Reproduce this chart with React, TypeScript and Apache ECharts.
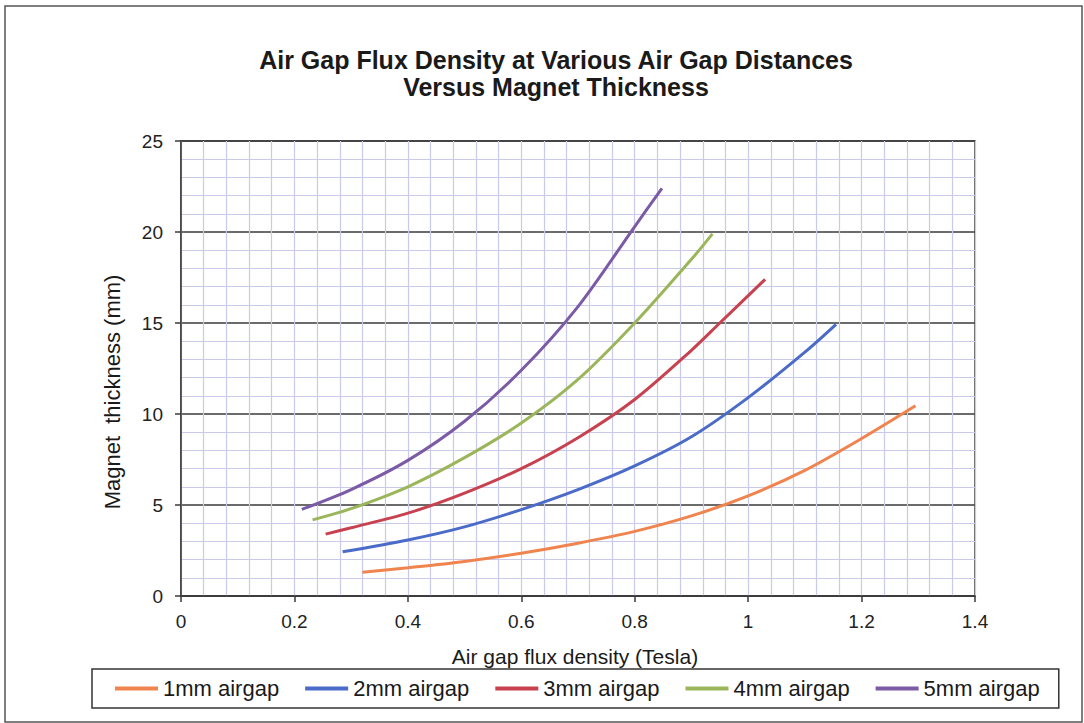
import React, { useEffect, useRef } from "react";
import * as echarts from "echarts";

const seriesNames = ["1mm airgap", "2mm airgap", "3mm airgap", "4mm airgap", "5mm airgap"];
const seriesColors = ["#F0844E", "#4A6BC8", "#C8414E", "#9BB65A", "#7B5AA6"];

const gap1mm: [number, number][] = [
  [0.32, 1.3], [0.4, 1.55], [0.5, 1.9], [0.6, 2.35], [0.7, 2.9], [0.8, 3.55],
  [0.9, 4.4], [1.0, 5.5], [1.1, 6.9], [1.2, 8.65], [1.295, 10.45],
];
const gap2mm: [number, number][] = [
  [0.285, 2.43], [0.4, 3.08], [0.5, 3.8], [0.6, 4.75], [0.7, 5.85], [0.8, 7.15],
  [0.9, 8.75], [1.0, 10.9], [1.1, 13.4], [1.155, 14.93],
];
const gap3mm: [number, number][] = [
  [0.255, 3.4], [0.3, 3.75], [0.4, 4.55], [0.5, 5.65], [0.6, 7.0], [0.7, 8.7],
  [0.8, 10.8], [0.9, 13.5], [0.95, 15.0], [1.03, 17.4],
];
const gap4mm: [number, number][] = [
  [0.232, 4.18], [0.3, 4.8], [0.4, 6.0], [0.5, 7.6], [0.6, 9.5], [0.7, 11.9],
  [0.8, 15.0], [0.9, 18.5], [0.937, 19.9],
];
const gap5mm: [number, number][] = [
  [0.213, 4.76], [0.3, 5.85], [0.4, 7.45], [0.5, 9.6], [0.6, 12.4], [0.7, 15.9],
  [0.8, 20.3], [0.848, 22.4],
];
const allSeries = [gap1mm, gap2mm, gap3mm, gap4mm, gap5mm];

const titleText = "Air Gap Flux Density at Various Air Gap Distances\nVersus Magnet Thickness";
const xAxisTitle = "Air gap flux density (Tesla)";
const yAxisTitle = "Magnet  thickness (mm)";
const xMin = 0, xMax = 1.4, xStep = 0.2;
const yMin = 0, yMax = 25, yStep = 5;

const FONT = "'Liberation Sans', Arial, sans-serif";

export default function App() {
  const ref = useRef<HTMLDivElement>(null);
  useEffect(() => {
    if (!ref.current) return;
    const chart = echarts.init(ref.current, undefined, { renderer: "svg" });
    chart.setOption({
      animation: false,
      backgroundColor: "#ffffff",
      textStyle: { fontFamily: FONT },
      title: {
        text: titleText,
        left: 551,
        top: 41,
        textAlign: "center",
        textStyle: { fontFamily: FONT, fontSize: 25, fontWeight: "bold", color: "#1a1a1a", lineHeight: 27 },
      },
      grid: {
        left: 181, right: 109, top: 141, bottom: 127,
        show: true, borderColor: "#3a3a3a", borderWidth: 1.5, backgroundColor: "transparent",
      },
      legend: {
        left: 92,
        top: 669,
        padding: [8, 19, 8, 23],
        borderColor: "#333",
        borderWidth: 1.5,
        icon: "rect",
        itemWidth: 43,
        itemHeight: 4,
        itemGap: 26,
        textStyle: { fontFamily: FONT, fontSize: 22, color: "#1a1a1a", lineHeight: 23 },
        data: seriesNames,
      },
      xAxis: {
        type: "value",
        min: xMin, max: xMax, interval: xStep,
        axisLine: { show: true, onZero: false, lineStyle: { color: "#3a3a3a", width: 1.5 } },
        axisTick: { show: true, length: 6, lineStyle: { color: "#3a3a3a", width: 1.5 } },
        axisLabel: { fontFamily: FONT, fontSize: 19, color: "#222", margin: 16, formatter: (v: number) => String(Math.round(v * 10) / 10) },
        splitLine: { show: true, lineStyle: { color: "#c9c9ea", width: 1.2 } },
        minorTick: { show: false, splitNumber: 5 },
        minorSplitLine: { show: true, lineStyle: { color: "#c9c9ea", width: 1.2 } },
      },
      yAxis: {
        type: "value",
        min: yMin, max: yMax, interval: yStep,
        axisLine: { show: true, lineStyle: { color: "#3a3a3a", width: 1.5 } },
        axisTick: { show: true, length: 6, lineStyle: { color: "#3a3a3a", width: 1.5 } },
        axisLabel: { fontFamily: FONT, fontSize: 19, color: "#222", margin: 18 },
        splitLine: { show: true, lineStyle: { color: "#3a3a3a", width: 1.5 } },
        minorTick: { show: false, splitNumber: 5 },
        minorSplitLine: { show: true, lineStyle: { color: "#c9c9ea", width: 1.2 } },
      },
      graphic: [
        {
          type: "rect",
          shape: { x: 5, y: 6, width: 1077, height: 716 },
          style: { fill: "none", stroke: "#555", lineWidth: 1.5 },
          silent: true,
        },
        {
          type: "text",
          x: 112, y: 392,
          rotation: Math.PI / 2,
          style: { text: yAxisTitle, font: `22px ${FONT}`, fill: "#1a1a1a", align: "center", verticalAlign: "middle" },
        },
        {
          type: "text",
          x: 575, y: 656,
          style: { text: xAxisTitle, font: `21px ${FONT}`, fill: "#1a1a1a", align: "center", verticalAlign: "middle" },
        },
      ],
      series: allSeries.map((d, i) => ({
        name: seriesNames[i],
        type: "line",
        data: d,
        smooth: 0.3,
        symbol: "none",
        color: seriesColors[i],
        lineStyle: { width: 3, color: seriesColors[i] },
        z: 3,
      })),
    });
    return () => chart.dispose();
  }, []);
  return (
    <div
      ref={ref}
      style={{ position: "absolute", left: 0, top: 0, width: 1084, height: 723 }}
    />
  );
}
